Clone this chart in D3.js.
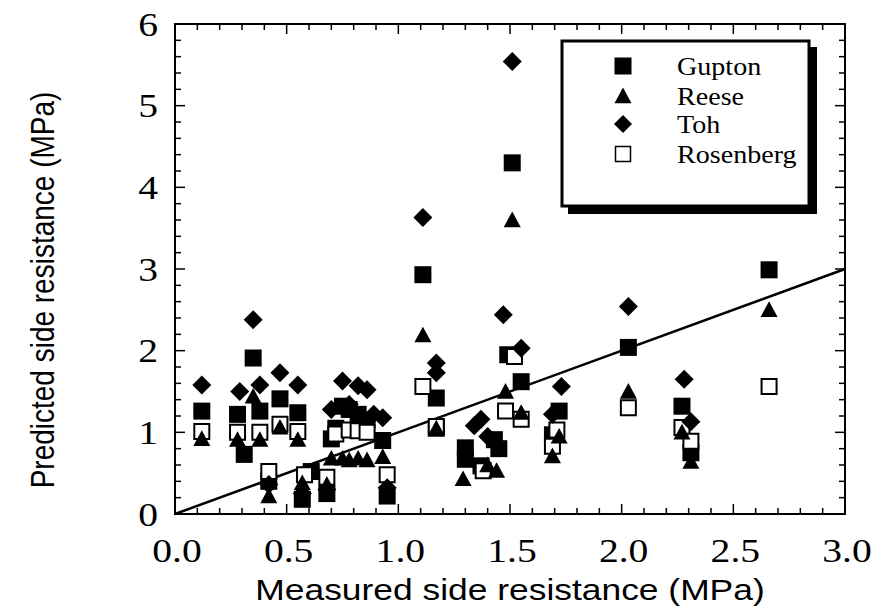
<!DOCTYPE html>
<html><head><meta charset="utf-8">
<script src="https://cdn.jsdelivr.net/npm/d3@7"></script>
<style>body{margin:0;background:#fff}</style>
</head><body>
<svg id="c" width="878" height="610"></svg>
<script>
const xTicks = [0.0, 0.5, 1.0, 1.5, 2.0, 2.5, 3.0];
const yTicks = [0, 1, 2, 3, 4, 5, 6];
const seriesNames = ["Gupton", "Reese", "Toh", "Rosenberg"];
const gupton = [[0.12,1.26],[0.28,1.22],[0.31,0.73],[0.35,1.91],[0.38,1.26],[0.42,0.40],[0.47,1.41],[0.55,1.24],[0.57,0.18],[0.61,0.52],[0.68,0.25],[0.70,0.92],[0.72,1.05],[0.75,1.32],[0.78,1.28],[0.82,1.22],[0.86,1.15],[0.93,0.90],[0.95,0.22],[1.11,2.93],[1.17,1.42],[1.17,1.05],[1.30,0.81],[1.30,0.67],[1.37,0.59],[1.43,0.91],[1.45,0.80],[1.49,1.95],[1.51,4.30],[1.55,1.62],[1.69,0.97],[1.72,1.26],[2.03,2.04],[2.27,1.32],[2.31,0.75],[2.66,2.99]];
const reese = [[0.12,0.92],[0.28,0.91],[0.35,1.44],[0.38,0.91],[0.42,0.22],[0.47,1.06],[0.55,0.91],[0.57,0.38],[0.68,0.36],[0.70,0.68],[0.75,0.68],[0.78,0.66],[0.82,0.68],[0.86,0.66],[0.93,0.70],[0.95,0.28],[1.11,2.19],[1.17,1.05],[1.29,0.43],[1.40,0.60],[1.44,0.53],[1.48,1.50],[1.51,3.60],[1.55,1.24],[1.69,0.71],[1.72,0.95],[2.03,1.50],[2.27,1.00],[2.31,0.64],[2.66,2.50]];
const toh = [[0.12,1.58],[0.29,1.50],[0.35,2.38],[0.38,1.58],[0.42,0.36],[0.47,1.73],[0.55,1.58],[0.57,0.25],[0.68,0.30],[0.70,1.28],[0.75,1.63],[0.78,1.34],[0.82,1.57],[0.86,1.52],[0.89,1.22],[0.93,1.18],[0.95,0.32],[1.11,3.63],[1.17,1.85],[1.17,1.73],[1.34,1.08],[1.37,1.16],[1.40,0.95],[1.47,2.44],[1.51,5.54],[1.55,2.03],[1.69,1.22],[1.73,1.56],[2.03,2.54],[2.28,1.65],[2.31,1.13]];
const rosenberg = [[0.12,1.01],[0.28,1.00],[0.38,1.00],[0.42,0.52],[0.47,1.10],[0.55,1.01],[0.58,0.48],[0.68,0.45],[0.72,0.98],[0.78,1.03],[0.82,1.02],[0.86,1.00],[0.95,0.48],[1.11,1.56],[1.17,1.07],[1.38,0.53],[1.48,1.26],[1.52,1.93],[1.55,1.16],[1.69,0.83],[1.71,1.03],[2.03,1.30],[2.27,1.06],[2.31,0.89],[2.66,1.56]];
const lineData = [[0,0],[3,3]];

const svg = d3.select("#c");
const L = 175, R = 845, T = 24, B = 514;
const x = d3.scaleLinear().domain([0,3]).range([L,R]);
const y = d3.scaleLinear().domain([0,6]).range([B,T]);

// ticks (inward, all sides)
const xMinor = d3.range(0, 3.0001, 0.1);
const yMinor = d3.range(0, 6.0001, 0.2);
const tg = svg.append("g").attr("stroke","#000").attr("stroke-width",1.5);
xMinor.forEach((v,i)=>{
  const len = (i%5===0)?10:6;
  tg.append("line").attr("x1",x(v)).attr("x2",x(v)).attr("y1",B).attr("y2",B-len);
  tg.append("line").attr("x1",x(v)).attr("x2",x(v)).attr("y1",T).attr("y2",T+len);
});
yMinor.forEach((v,i)=>{
  const len = (i%5===0)?10:6;
  tg.append("line").attr("y1",y(v)).attr("y2",y(v)).attr("x1",L).attr("x2",L+len);
  tg.append("line").attr("y1",y(v)).attr("y2",y(v)).attr("x1",R).attr("x2",R-len);
});
svg.append("rect").attr("x",L).attr("y",T).attr("width",R-L).attr("height",B-T)
  .attr("fill","none").attr("stroke","#000").attr("stroke-width",2);

// tick labels (horizontally stretched like the scanned original)
svg.append("g").selectAll("text").data(xTicks).join("text")
  .attr("transform",d=>`translate(${x(d)+2},562) scale(1.2,1)`).attr("text-anchor","middle")
  .attr("font-family","Liberation Serif").attr("font-size",33)
  .text(d=>d.toFixed(1));
svg.append("g").selectAll("text").data(yTicks).join("text")
  .attr("transform",d=>`translate(158,${y(d)}) scale(1.2,1)`).attr("dy","0.35em").attr("text-anchor","end")
  .attr("font-family","Liberation Serif").attr("font-size",33)
  .text(d=>d);

// axis titles
svg.append("text").attr("transform","translate(510,600) scale(1.18,1)").attr("text-anchor","middle")
  .attr("font-family","Liberation Sans").attr("font-size",30)
  .text("Measured side resistance (MPa)");
svg.append("text").attr("transform","translate(54,290) scale(1.18,1) rotate(-90)").attr("text-anchor","middle")
  .attr("font-family","Liberation Sans").attr("font-size",28)
  .text("Predicted side resistance (MPa)");

// 1:1 line
svg.append("path").datum(lineData)
  .attr("d", d3.line().x(d=>x(d[0])).y(d=>y(d[1])))
  .attr("stroke","#000").attr("stroke-width",2.5).attr("fill","none");

// marker shapes
const sq = s => `M${-s/2},${-s/2}h${s}v${s}h${-s}Z`;
const tri = s => `M0,${-s*0.5}L${s/2},${s*0.42}L${-s/2},${s*0.42}Z`;
const dia = s => `M0,${-s/2}L${s/2},0L0,${s/2}L${-s/2},0Z`;

function draw(data, path, fill, stroke, sw){
  svg.append("g").selectAll("path").data(data).join("path")
    .attr("transform",d=>`translate(${x(d[0])},${y(d[1])})`)
    .attr("d",path).attr("fill",fill).attr("stroke",stroke).attr("stroke-width",sw);
}
draw(gupton, sq(17), "#000", "none", 0);
draw(rosenberg, sq(15), "#fff", "#000", 2);
draw(toh, dia(19), "#000", "none", 0);
draw(reese, tri(17), "#000", "none", 0);

// legend
const lg = svg.append("g");
lg.append("rect").attr("x",568).attr("y",47).attr("width",249).attr("height",167).attr("fill","#000");
lg.append("rect").attr("x",562).attr("y",41).attr("width",247).attr("height",165)
  .attr("fill","#fff").attr("stroke","#000").attr("stroke-width",3);
const lShapes = [[sq(17),"#000","none",0],[tri(17),"#000","none",0],[dia(18),"#000","none",0],[sq(15),"#fff","#000",1.5]];
const lY = [66, 96, 124, 154];
seriesNames.forEach((n,i)=>{
  lg.append("path").attr("transform",`translate(623,${lY[i]})`).attr("d",lShapes[i][0])
    .attr("fill",lShapes[i][1]).attr("stroke",lShapes[i][2]).attr("stroke-width",lShapes[i][3]);
  lg.append("text").attr("transform",`translate(677,${lY[i]+9}) scale(1.08,1)`).attr("font-family","Liberation Serif")
    .attr("font-size",26).text(n);
});
</script>
</body></html>
